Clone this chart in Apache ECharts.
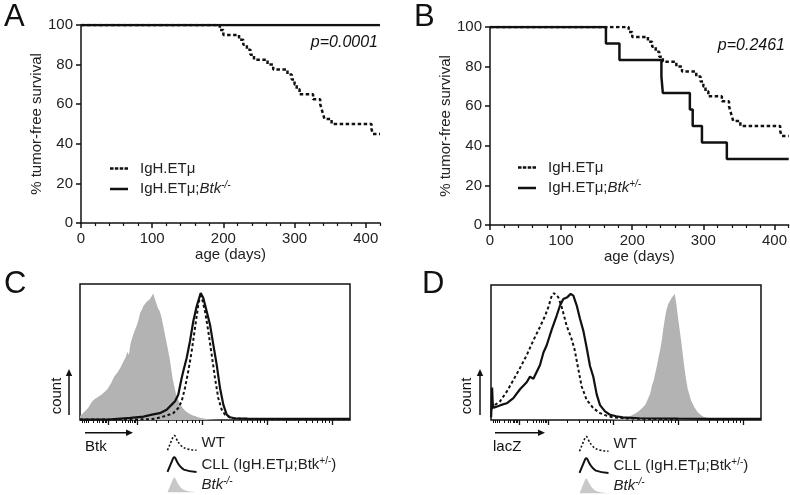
<!DOCTYPE html>
<html><head><meta charset="utf-8">
<script src="https://cdn.jsdelivr.net/npm/echarts@6/dist/echarts.min.js"></script>
<style>html,body{margin:0;padding:0;background:#fff}#c{width:790px;height:495px}</style>
</head><body><div id="c"></div><script>
// ---------- Survival (Kaplan-Meier) data ----------
const survMajorTicks = [0, 100, 200, 300, 400];
const survMinorTicks = [20, 40, 60, 80, 120, 140, 160, 180, 220, 240, 260, 280, 320, 340, 360, 380, 420];
const survYTicks = [0, 20, 40, 60, 80, 100];

const etmuDays = [0, 195, 200, 222, 228, 233, 238, 243, 262, 270, 290, 296, 300, 303, 307, 326, 336, 338, 340, 342, 352, 408, 410, 420];
const etmuSurv = [100, 97.5, 95, 92.5, 90, 87.5, 85, 82.5, 80, 77.5, 75, 72.5, 70, 67.5, 65, 62.5, 60, 57.5, 55, 52.5, 50, 47.5, 45, 45];

const btkKoDays = [0, 420];
const btkKoSurv = [100, 100];

const btkHetDays = [0, 163, 182, 241, 243, 281, 285, 298, 333, 420];
const btkHetSurv = [100, 91.67, 83.33, 75, 66.67, 58.33, 50, 41.67, 33.33, 33.33];

// ---------- Flow cytometry histograms (x: log10 fluorescence, y: % of max count) ----------
const flowMajorTicks = [0.554, 1, 2, 3, 4];
const flowLowTicks = [0.15, 0.19, 0.22, 0.253, 0.329, 0.382, 0.424, 0.458, 0.487, 0.512, 0.534, 0.688, 0.767, 0.823, 0.866, 0.901, 0.931, 0.957, 0.98];

// Panel C (Btk staining)
const cKoX = [0.123,0.15,0.2,0.25,0.3,0.35,0.4,0.45,0.5,0.55,0.575,0.6,0.625,0.65,0.675,0.7,0.725,0.75,0.775,0.8,0.825,0.85,0.875,0.9,0.925,0.95,0.975,1.0,1.025,1.05,1.075,1.1,1.125,1.15,1.175,1.2,1.225,1.25,1.275,1.3,1.325,1.35,1.375,1.4,1.425,1.45,1.475,1.5,1.55,1.6,1.65,1.7,1.75,1.8,1.85,1.9,1.95,2.0,2.1,2.2,2.3];
const cKoY = [3,4,6.5,9,13,15.5,17,18.5,20.5,23,25,27,27,32,31,35,36,39,40,44,46,50,48,56,57,64,63,70,74,79,81,84,85,87,86,89,90,93,89,88,82,80,76,70,64,58,52,46,30,19,13,9,6.5,4.8,3.5,2.8,1.8,1.2,0.5,0.1,0];

const cWtX = [0.123,0.8,1.2,1.3,1.4,1.5,1.56,1.635,1.687,1.738,1.789,1.841,1.892,1.943,1.98,2.046,2.097,2.149,2.2,2.25,2.303,2.354,2.43,2.5,2.7,3.0,3.5,4.0,4.277];
const cWtY = [0.3,0.4,0.5,1.2,2.5,4,5.1,8.8,13.8,23.5,35.8,50.5,67.6,84.8,93.4,80,65.2,48,30.9,16.2,7.6,3.9,2,1.2,0.8,0.6,0.5,0.5,0.5];

const cCllX = [0.123,0.6,0.9,1.1,1.23,1.35,1.456,1.534,1.585,1.635,1.687,1.712,1.764,1.815,1.866,1.918,1.98,2.02,2.072,2.123,2.174,2.226,2.277,2.328,2.38,2.43,2.5,2.7,3.0,3.5,4.0,4.277];
const cCllY = [0.3,0.5,1.5,2.5,3.9,5,7.6,11.3,13.8,18.6,30.9,35.8,45.6,57.9,72.6,83.6,93.4,89.7,79.9,70.1,55.4,40.7,23.5,11.3,3.9,2,1.3,1,0.9,0.8,0.8,0.8];

// Panel D (lacZ staining)
const dKoX = [1.9,2.0,2.1,2.2,2.3,2.35,2.4,2.45,2.5,2.55,2.575,2.6,2.625,2.65,2.675,2.7,2.725,2.75,2.775,2.8,2.825,2.85,2.875,2.9,2.925,2.95,2.975,3.0,3.025,3.05,3.075,3.1,3.125,3.15,3.2,3.25,3.3,3.35,3.4,3.5,3.6,3.7];
const dKoY = [0,0.3,0.6,1.5,3.7,5,6.6,8.8,11.4,17,20,25.7,29,34.6,40,46.3,52,58.8,68,75.7,82,86,88,90.4,91,93.4,86,76,67,58,48,38.2,30,23,14.7,9.6,5.9,3.7,2.2,1.1,0.5,0];

const dWtX = [0.13,0.185,0.262,0.365,0.467,0.569,0.672,0.775,0.877,0.954,1.005,1.057,1.092,1.157,1.209,1.286,1.363,1.41,1.465,1.517,1.594,1.696,1.8,1.9,2.0,2.2,2.5,3.0];
const dWtY = [8,11.2,13.8,21,29.6,38.5,48,59,69,77,83.6,92,94,91,84,70,60,52,38,25,15,8.8,5.1,3.2,2,1.2,0.8,0.6];

const dCllX = [0.125,0.14,0.15,0.165,0.185,0.27,0.365,0.467,0.569,0.672,0.723,0.775,0.877,0.93,0.98,1.057,1.134,1.185,1.236,1.298,1.349,1.39,1.442,1.492,1.544,1.595,1.646,1.697,1.749,1.8,1.877,1.954,2.05,2.15,2.4,3.0,3.5,4.0,4.277];
const dCllY = [2,24,12,9,10,11,12.4,16.2,22.8,28,32.1,30.5,40.7,50,55.4,67,77.4,84.8,89.7,91,93.4,92.1,84.8,75,66,53.5,40,32,19,11,6.4,3.9,2.8,2,1.3,1,0.9,0.9,0.9];

// ---------- helpers ----------
const FONT = '"Liberation Sans", Arial, sans-serif';
const BLACK = '#111';
const GRAY = '#b3b3b3';
const pairs = (xs, ys) => xs.map((x, i) => [x, ys[i]]);
const flowMinorTicks = flowLowTicks.slice();
[1, 2, 3].forEach(d => { for (let k = 2; k <= 9; k++) flowMinorTicks.push(d + Math.log10(k)); });

function survXAxes(grid) {
  return [
    { gridIndex: grid, type: 'value', position: 'bottom', min: 0, max: 420,
      axisLine: { lineStyle: { color: BLACK, width: 1.5 } },
      axisTick: { customValues: survMajorTicks, length: 5, lineStyle: { color: BLACK, width: 1.5 } },
      axisLabel: { customValues: survMajorTicks, fontSize: 15, color: '#222', fontFamily: FONT, margin: 8 },
      splitLine: { show: false },
      name: 'age (days)', nameLocation: 'middle', nameGap: 23,
      nameTextStyle: { fontSize: 15, color: '#222', fontFamily: FONT } },
    { gridIndex: grid, type: 'value', position: 'bottom', min: 0, max: 420,
      axisLine: { show: false },
      axisTick: { customValues: survMinorTicks, length: 3, lineStyle: { color: BLACK, width: 1.2 } },
      axisLabel: { show: false }, splitLine: { show: false } }
  ];
}
function survYAxis(grid) {
  return { gridIndex: grid, type: 'value', position: 'left', min: 0, max: 100, interval: 20,
    axisLine: { show: true, lineStyle: { color: BLACK, width: 1.5 } },
    axisTick: { show: true, length: 5, lineStyle: { color: BLACK, width: 1.5 } },
    axisLabel: { fontSize: 15, color: '#222', fontFamily: FONT, margin: 8 },
    splitLine: { show: false },
    name: '% tumor-free survival', nameLocation: 'middle', nameGap: 36, nameRotate: 90,
    nameTextStyle: { fontSize: 15, color: '#222', fontFamily: FONT } };
}
function flowXAxes(grid) {
  return [
    { gridIndex: grid, type: 'value', position: 'bottom', min: 0.123, max: 4.277,
      axisLine: { show: false },
      axisTick: { customValues: flowMajorTicks, length: 5, lineStyle: { color: BLACK, width: 1.3 } },
      axisLabel: { show: false }, splitLine: { show: false } },
    { gridIndex: grid, type: 'value', position: 'bottom', min: 0.123, max: 4.277,
      axisLine: { show: false },
      axisTick: { customValues: flowMinorTicks, length: 3, lineStyle: { color: BLACK, width: 1 } },
      axisLabel: { show: false }, splitLine: { show: false } }
  ];
}
function flowYAxis(grid) {
  return { gridIndex: grid, type: 'value', min: 0, max: 100, show: false, splitLine: { show: false } };
}
function kmSeries(name, days, surv, xi, yi, dashed) {
  return { type: 'line', name, xAxisIndex: xi, yAxisIndex: yi, step: 'end', symbol: 'none', silent: true,
    data: pairs(days, surv), itemStyle: { color: BLACK },
    lineStyle: { color: BLACK, width: 2.5, type: dashed ? [3.5, 2.5] : 'solid' }, z: dashed ? 3 : 4 };
}
function histLine(name, xs, ys, xi, yi, dashed) {
  return { type: 'line', name, xAxisIndex: xi, yAxisIndex: yi, symbol: 'none', silent: true,
    data: pairs(xs, ys), itemStyle: { color: BLACK },
    lineStyle: { color: BLACK, width: dashed ? 2 : 2.2, type: dashed ? [3, 2.5] : 'solid' }, z: dashed ? 4 : 5 };
}
function histArea(name, xs, ys, xi, yi) {
  return { type: 'line', name, xAxisIndex: xi, yAxisIndex: yi, symbol: 'none', silent: true,
    data: pairs(xs, ys), itemStyle: { color: GRAY },
    lineStyle: { width: 0, color: GRAY }, areaStyle: { color: GRAY, opacity: 1 }, z: 2 };
}

const richAB = {
  f: { fontSize: 15, color: '#222', fontFamily: FONT, lineHeight: 18, padding: [0, 0, 0, 7] },
  n: { fontSize: 15, color: '#222', fontFamily: FONT, lineHeight: 18 },
  i: { fontSize: 15, color: '#222', fontFamily: FONT, fontStyle: 'italic', lineHeight: 18 },
  s: { fontSize: 10, color: '#222', fontFamily: FONT, fontStyle: 'italic', verticalAlign: 'top', lineHeight: 11 }
};
function fmtAB(name) {
  const k = name.indexOf(';Btk');
  if (k < 0) return '{f|' + name + '}';
  return '{f|' + name.slice(0, k + 1) + '}{i|Btk}{s|' + name.slice(k + 4) + '}';
}
const dashIcon = 'path://M0,0h3.5v2.5h-3.5z M4.8,0h3.5v2.5h-3.5z M9.7,0h3.5v2.5h-3.5z M14.5,0h3.5v2.5h-3.5z';
const solidIcon = 'path://M0,0h18v2.5h-18z';
function abLegend(left, top, second) {
  return { orient: 'vertical', left, top, height: 60, padding: 0, itemWidth: 18, itemHeight: 2.5, itemGap: 4, selectedMode: false,
    formatter: fmtAB, textStyle: { rich: richAB },
    data: [
      { name: 'IgH.ETμ', icon: dashIcon, itemStyle: { color: BLACK, borderWidth: 0 } },
      { name: second, icon: solidIcon, itemStyle: { color: BLACK, borderWidth: 0 } }
    ] };
}
const richCD = {
  n: { fontSize: 15, color: '#222', fontFamily: FONT, lineHeight: 17 },
  i: { fontSize: 15, color: '#222', fontFamily: FONT, fontStyle: 'italic', lineHeight: 17 },
  s: { fontSize: 10, color: '#222', fontFamily: FONT, verticalAlign: 'top', lineHeight: 11 },
  si: { fontSize: 10, color: '#222', fontFamily: FONT, fontStyle: 'italic', verticalAlign: 'top', lineHeight: 11 }
};
function fmtCD(name) {
  if (name === 'WT') return '{n|WT}';
  if (name.indexOf('CLL') === 0) return '{n|CLL (IgH.ETμ;Btk}{s|+/-}{n|)}';
  return '{i|Btk}{si|-/-}';
}
const peakOpen = 'path://M0,16 L6,1.5 Q7,0 8,1.5 Q12,11 17,13.5 Q22,15.5 30,16';
const peakFill = 'path://M0,16 L6,1.5 Q7,0 8,1.5 Q12,11 17,13.5 Q22,15.5 30,16 Z';
function cdLegend(left, top) {
  return { orient: 'vertical', left, top, height: 90, width: 220, padding: 0, itemWidth: 29, itemHeight: 16, itemGap: 2,
    selectedMode: false, formatter: fmtCD, textStyle: { rich: richCD },
    data: [
      { name: 'WT', icon: peakOpen, itemStyle: { color: 'none', borderColor: BLACK, borderWidth: 1.6, borderType: [2, 2] } },
      { name: 'CLL (IgH.ETμ;Btk+/-)', icon: peakOpen, itemStyle: { color: 'none', borderColor: BLACK, borderWidth: 2, borderType: 'solid' } },
      { name: 'Btk-/-', icon: peakFill, itemStyle: { color: '#c8c8c8', borderWidth: 0, borderColor: 'none' } }
    ] };
}

function txt(x, y, text, size, opts) {
  return Object.assign({ type: 'text', x, y, silent: true,
    style: Object.assign({ text, font: (opts && opts.italic ? 'italic ' : '') + size + 'px ' + FONT,
      fill: '#111', textAlign: 'left', textVerticalAlign: 'middle' }, (opts && opts.style) || {}) }, (opts && opts.el) || {});
}
function upArrow(x, y0, y1) {
  return [
    { type: 'line', silent: true, shape: { x1: x, y1: y0, x2: x, y2: y1 + 5 }, style: { stroke: BLACK, lineWidth: 1.5 } },
    { type: 'polygon', silent: true, shape: { points: [[x - 3.2, y1 + 7], [x + 3.2, y1 + 7], [x, y1]] }, style: { fill: BLACK } }
  ];
}
function rightArrow(x0, x1, y) {
  return [
    { type: 'line', silent: true, shape: { x1: x0, y1: y, x2: x1 - 5, y2: y }, style: { stroke: BLACK, lineWidth: 1.5 } },
    { type: 'polygon', silent: true, shape: { points: [[x1 - 7, y - 3.2], [x1 - 7, y + 3.2], [x1, y]] }, style: { fill: BLACK } }
  ];
}

const option = {
  animation: false,
  backgroundColor: '#fff',
  grid: [
    { left: 81, top: 25, width: 299, height: 198 },
    { left: 490, top: 27, width: 300, height: 198 },
    { left: 80, top: 284, width: 270, height: 136, show: true, borderColor: BLACK, borderWidth: 1.5, backgroundColor: 'transparent' },
    { left: 491, top: 285, width: 270, height: 135, show: true, borderColor: BLACK, borderWidth: 1.5, backgroundColor: 'transparent' }
  ],
  xAxis: [].concat(survXAxes(0), survXAxes(1), flowXAxes(2), flowXAxes(3)),
  yAxis: [survYAxis(0), survYAxis(1), flowYAxis(2), flowYAxis(3)],
  legend: [
    abLegend(110, 161, 'IgH.ETμ;Btk-/-'),
    abLegend(518, 160, 'IgH.ETμ;Btk+/-'),
    cdLegend(165, 433),
    cdLegend(577, 434)
  ],
  series: [
    kmSeries('IgH.ETμ', etmuDays, etmuSurv, 0, 0, true),
    kmSeries('IgH.ETμ;Btk-/-', btkKoDays, btkKoSurv, 0, 0, false),
    kmSeries('IgH.ETμ', etmuDays, etmuSurv, 2, 1, true),
    kmSeries('IgH.ETμ;Btk+/-', btkHetDays, btkHetSurv, 2, 1, false),
    histArea('Btk-/-', cKoX, cKoY, 4, 2),
    histLine('WT', cWtX, cWtY, 4, 2, true),
    histLine('CLL (IgH.ETμ;Btk+/-)', cCllX, cCllY, 4, 2, false),
    histArea('Btk-/-', dKoX, dKoY, 6, 3),
    histLine('WT', dWtX, dWtY, 6, 3, true),
    histLine('CLL (IgH.ETμ;Btk+/-)', dCllX, dCllY, 6, 3, false)
  ],
  graphic: [].concat(
    [
      txt(4, 17, 'A', 31),
      txt(414, 17, 'B', 31),
      txt(4, 284, 'C', 31),
      txt(422, 284, 'D', 31),
      txt(378, 43, 'p=0.0001', 16, { italic: true, style: { textAlign: 'right' } }),
      txt(785, 46, 'p=0.2461', 16, { italic: true, style: { textAlign: 'right' } }),
      { type: 'text', x: 57, y: 396, rotation: Math.PI / 2, silent: true,
        style: { text: 'count', font: '15px ' + FONT, fill: '#111', textAlign: 'center', textVerticalAlign: 'middle' } },
      { type: 'text', x: 467, y: 396, rotation: Math.PI / 2, silent: true,
        style: { text: 'count', font: '15px ' + FONT, fill: '#111', textAlign: 'center', textVerticalAlign: 'middle' } },
      txt(85, 447, 'Btk', 15),
      txt(493, 447, 'lacZ', 15)
    ],
    upArrow(69, 415, 369), upArrow(480, 415, 369),
    rightArrow(85, 133, 432.7), rightArrow(495, 545, 432.7)
  )
};

const chart = echarts.init(document.getElementById('c'), null, { renderer: 'canvas', width: 790, height: 495 });
chart.setOption(option);
</script></body></html>
